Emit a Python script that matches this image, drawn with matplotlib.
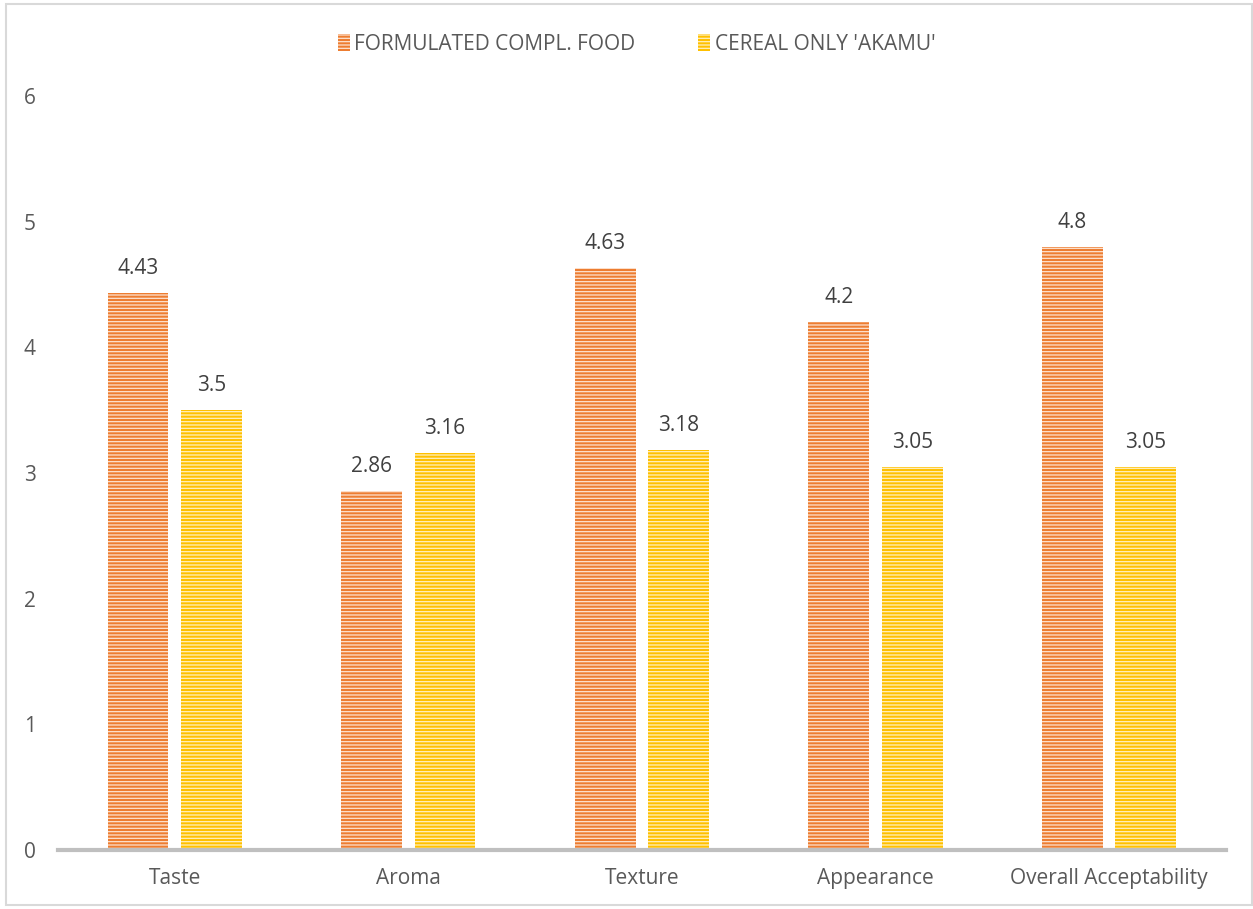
import numpy as np
import matplotlib as mpl
import matplotlib.pyplot as plt
from matplotlib.patches import Rectangle

categories = ["Taste", "Aroma", "Texture", "Appearance", "Overall Acceptability"]
formulated = [4.43, 2.86, 4.63, 4.2, 4.8]
cereal = [3.5, 3.16, 3.18, 3.05, 3.05]
series_names = ["FORMULATED COMPL. FOOD", "CEREAL ONLY 'AKAMU'"]

mpl.rcParams.update({
    "font.family": ["Open Sans", "DejaVu Sans"],
    "hatch.linewidth": 0.9,
})

fig = plt.figure(figsize=(12.53, 9.09), dpi=100)
ax = fig.add_axes([0.0463, 0.0649, 0.932, 0.8295])

x = np.arange(len(categories))
w = 0.26
off = 0.157
b1 = ax.bar(x - off, formulated, w, color="#ED7D31", edgecolor="#FDE3D0",
            linewidth=0, hatch="-----", label=series_names[0])
b2 = ax.bar(x + off, cereal, w, color="#FFC000", edgecolor="#FFF0BF",
            linewidth=0, hatch="-----", label=series_names[1])

for bars, vals in ((b1, formulated), (b2, cereal)):
    for r, v in zip(bars, vals):
        ax.annotate(f"{v:g}", (r.get_x() + r.get_width() / 2, v),
                    xytext=(0, 10), textcoords="offset points",
                    ha="center", va="bottom", fontsize=15, color="#404040")

ax.set_xlim(-0.5, len(categories) - 0.5)
ax.set_ylim(0, 6)
ax.set_yticks(range(7))
ax.set_xticks(x)
ax.set_xticklabels(categories)
ax.tick_params(axis="both", length=0, labelsize=15, colors="#595959")
ax.tick_params(axis="y", pad=16)
ax.tick_params(axis="x", pad=13)
for s in ("top", "right", "left"):
    ax.spines[s].set_visible(False)
ax.spines["bottom"].set_color("#BFBFBF")
ax.spines["bottom"].set_linewidth(3)

leg = fig.legend(loc="center", bbox_to_anchor=(0.508, 0.951), ncol=2, frameon=False,
                 fontsize=15, handlelength=0.6, handleheight=0.9, handletextpad=0.2,
                 columnspacing=3.0)
for t in leg.get_texts():
    t.set_color("#595959")

fig.patches.append(Rectangle((0.005, 0.004), 0.994, 0.992, transform=fig.transFigure,
                             fill=False, edgecolor="#D9D9D9", linewidth=1.5))

fig.savefig("out.png", dpi=100)
